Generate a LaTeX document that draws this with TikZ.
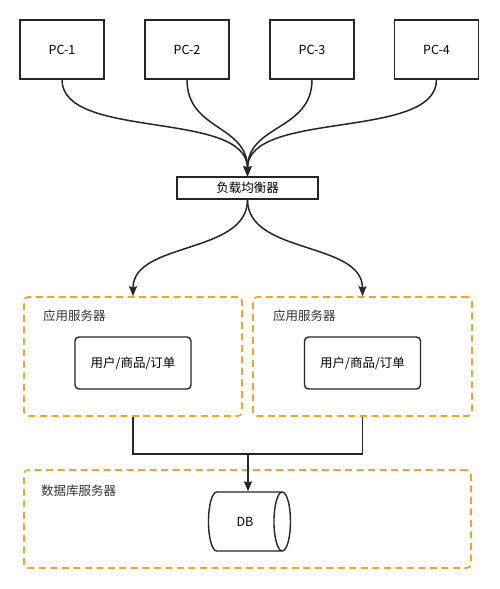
\documentclass[tikz,border=0pt]{standalone}
\usepackage{fontspec}
\setmainfont{Noto Sans CJK SC}
\usetikzlibrary{shapes.geometric, arrows.meta, positioning}
\definecolor{srvorange}{RGB}{240, 166, 40}
\definecolor{linegray}{RGB}{38, 38, 38}

\begin{document}
\begin{tikzpicture}[x=1pt, y=-1pt, font=\fontsize{12.5}{14}\selectfont,
  pcbox/.style={draw=linegray, line width=1.4pt, minimum width=84pt, minimum height=59pt, inner sep=0pt},
  lbbox/.style={draw=linegray, line width=1.4pt, minimum width=141pt, minimum height=22pt, inner sep=0pt},
  srvbox/.style={draw=srvorange, line width=1.6pt, dash pattern=on 7pt off 4.5pt, rounded corners=4pt, inner sep=0pt},
  svcbox/.style={draw=linegray, line width=1.4pt, rounded corners=4pt, minimum width=116pt, minimum height=52pt, inner sep=0pt},
  srvlabel/.style={anchor=west, inner sep=2pt, text=black!80},
  flow/.style={draw=linegray, line width=1.5pt, -{Stealth[length=10pt, width=8pt, inset=1.5pt]}},
  link/.style={draw=linegray, line width=1.5pt}]
  \useasboundingbox[fill=white] (0,0) rectangle (499,589);

  % clients
  \node[pcbox] (pc1) at (62,49.5) {PC-1};
  \node[pcbox] (pc2) at (187,49.5) {PC-2};
  \node[pcbox] (pc3) at (312,49.5) {PC-3};
  \node[pcbox] (pc4) at (436.5,49.5) {PC-4};

  \node[lbbox] (lb) at (247.5,188) {负载均衡器};

  % application servers
  \node[srvbox, minimum width=218pt, minimum height=119pt] (app1) at (133,356.5) {};
  \node[srvbox, minimum width=219pt, minimum height=119pt] (app2) at (362.5,356.5) {};
  \node[srvlabel] (app1lbl) at (41,316) {应用服务器};
  \node[srvlabel] (app2lbl) at (271,316) {应用服务器};
  \node[svcbox] (svc1) at (133,363) {用户/商品/订单};
  \node[svcbox] (svc2) at (362.5,363) {用户/商品/订单};

  % database server
  \node[srvbox, minimum width=447pt, minimum height=98pt] (dbsrv) at (247.5,519) {};
  \node[srvlabel] (dbsrvlbl) at (39,491) {数据库服务器};
  \node[cylinder, draw=linegray, line width=1.4pt, minimum width=59pt, minimum height=82pt, aspect=1.8, inner sep=0pt] (db) at (245,521.5) {DB};

  \draw[flow] (pc1.south) .. controls +(0,61) and +(0,-67) .. (lb.north);
  \draw[flow] (pc2.south) .. controls +(0,51) and +(0,-52) .. (lb.north);
  \draw[flow] (pc3.south) .. controls +(0,51) and +(0,-52) .. (lb.north);
  \draw[flow] (pc4.south) .. controls +(0,61) and +(0,-67) .. (lb.north);

  \draw[flow] (lb.south) .. controls +(0,55) and +(0,-55) .. (app1.north);
  \draw[flow] (lb.south) .. controls +(0,55) and +(0,-55) .. (app2.north);

  \coordinate (join) at (248,454);
  \draw[link] (app1.south) |- (join) -| (app2.south);
  \draw[flow] (join) -- (join |- db.north);
\end{tikzpicture}
\end{document}
